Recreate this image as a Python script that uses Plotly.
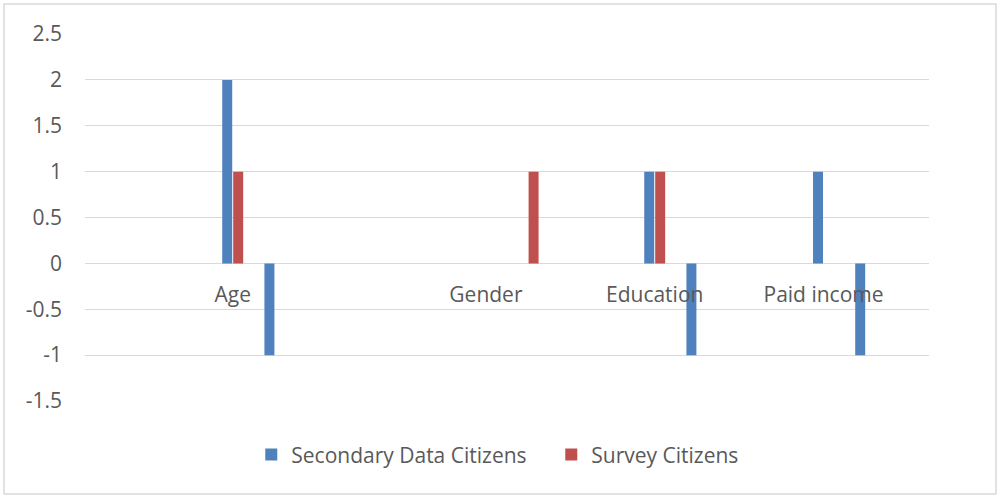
import plotly.graph_objects as go

categories = ["", "", "", "Age", "", "", "", "", "", "Gender", "", "", "",
              "Education", "", "", "", "Paid income", "", ""]
secondary = [None, None, None, 2, -1, None, None, None, None, None, None, None, None,
             1, -1, None, None, 1, -1, None]
survey = [None, None, None, 1, None, None, None, None, None, None, 1, None, None,
          1, None, None, None, None, None, None]
y_ticks = [-1.5, -1, -0.5, 0, 0.5, 1, 1.5, 2, 2.5]
y_ticktext = ["-1.5", "-1", "-0.5", "0", "0.5", "1", "1.5", "2", "2.5"]

xs = list(range(len(categories)))
FONT = "Open Sans"
GREY = "#595959"
FS = 21

fig = go.Figure()
fig.add_trace(go.Bar(x=xs, y=secondary, name="Secondary Data Citizens",
                     marker=dict(color="#4F81BD", line=dict(width=0))))
fig.add_trace(go.Bar(x=xs, y=survey, name="Survey Citizens",
                     marker=dict(color="#C0504D", line=dict(width=0))))

fig.update_layout(
    width=1001, height=499,
    margin=dict(l=85, r=72, t=34, b=98),
    paper_bgcolor="white", plot_bgcolor="white",
    barmode="group", bargap=0.48, bargroupgap=0.09,
    font=dict(family=FONT, size=FS, color=GREY),
    showlegend=True,
    legend=dict(orientation="h", x=0.197, y=-0.147, xanchor="left", yanchor="middle",
                font=dict(family=FONT, size=FS, color=GREY), entrywidth=255,
                itemwidth=30, bgcolor="rgba(0,0,0,0)"),
    xaxis=dict(range=[-0.5, len(categories) - 0.5], tickvals=xs, ticktext=categories,
               showgrid=False, zeroline=False, showline=False,
               anchor="free", position=0.375, ticks="", ticklabelstandoff=17,
               tickfont=dict(family=FONT, size=FS, color=GREY)),
    yaxis=dict(range=[-1.5, 2.5], tickvals=y_ticks, ticktext=y_ticktext,
               showgrid=True, gridcolor="#D9D9D9", gridwidth=1.3,
               zeroline=False, showline=False, ticks="", ticklabelstandoff=22,
               tickfont=dict(family=FONT, size=FS, color=GREY)),
    shapes=[dict(type="rect", xref="paper", yref="paper",
                 x0=(4 - 85) / 844, x1=(996 - 85) / 844,
                 y0=(401 - 494) / 367, y1=(401 - 4) / 367,
                 line=dict(color="#D9D9D9", width=1.5), fillcolor="rgba(0,0,0,0)",
                 layer="below")],
)

fig.write_html("out.html")
